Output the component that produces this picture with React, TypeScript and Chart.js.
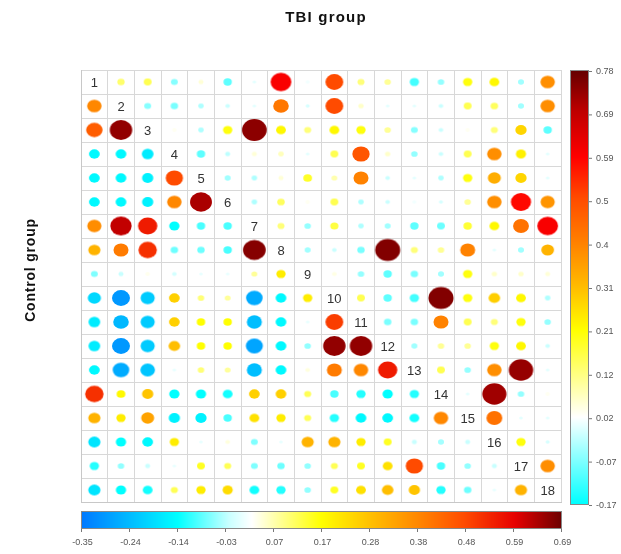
import React, { useEffect, useRef } from 'react';
import { Chart, registerables } from 'chart.js';

Chart.register(...registerables);

// Variable labels shown on the diagonal
const variables = ['1', '2', '3', '4', '5', '6', '7', '8', '9', '10', '11', '12', '13', '14', '15', '16', '17', '18'];

// Correlation matrix: upper triangle = TBI group, lower triangle = Control group, diagonal = null
const matrix: (number | null)[][] = [
  [null, 0.13, 0.15, -0.07, 0.05, -0.1, 0, 0.6, 0.01, 0.5, 0.12, 0.1, -0.12, -0.06, 0.2, 0.22, -0.05, 0.38],
  [0.38, null, -0.07, -0.08, -0.04, -0.02, 0, 0.42, -0.01, 0.5, 0.06, 0, 0, -0.02, 0.15, 0.14, -0.05, 0.38],
  [0.45, 0.66, null, 0.03, -0.04, 0.2, 0.74, 0.22, 0.12, 0.22, 0.2, 0.1, -0.07, -0.02, 0.03, 0.12, 0.27, -0.1],
  [-0.15, -0.15, -0.17, null, -0.1, -0.03, 0.05, 0.07, 0, 0.15, 0.48, 0.06, -0.06, -0.02, 0.15, 0.38, 0.23, 0],
  [-0.15, -0.15, -0.16, 0.48, null, -0.05, -0.04, 0.05, 0.18, 0.08, 0.4, -0.02, 0, -0.04, 0.2, 0.33, 0.27, 0],
  [-0.15, -0.15, -0.16, 0.38, 0.64, null, -0.04, 0.14, 0.03, 0.15, -0.04, -0.02, 0.01, -0.01, 0.1, 0.38, 0.58, 0.37],
  [0.37, 0.62, 0.55, -0.14, -0.1, -0.1, null, 0.12, -0.06, 0.16, -0.04, -0.05, -0.1, -0.09, 0.17, 0.22, 0.43, 0.6],
  [0.3, 0.4, 0.52, -0.08, -0.08, -0.1, 0.67, null, -0.05, -0.02, -0.08, 0.75, 0.12, 0.1, 0.4, 0, -0.05, 0.32],
  [-0.07, -0.03, 0.03, -0.02, 0, 0, 0.08, 0.2, null, 0.04, -0.06, -0.1, -0.08, -0.05, 0.2, 0.06, 0.06, 0.05],
  [-0.2, -0.3, -0.22, 0.25, 0.1, 0.08, -0.27, -0.15, 0.2, null, 0.15, -0.1, -0.12, 0.75, 0.2, 0.28, 0.22, -0.04],
  [-0.17, -0.25, -0.22, 0.25, 0.17, 0.17, -0.24, -0.15, 0, 0.5, null, -0.08, -0.08, 0.4, 0.15, 0.12, 0.2, -0.06],
  [-0.17, -0.3, -0.22, 0.28, 0.17, 0.17, -0.28, -0.15, -0.06, 0.66, 0.66, null, -0.05, 0.1, 0.1, 0.2, 0.22, -0.02],
  [-0.15, -0.27, -0.23, 0, 0.1, 0.08, -0.24, -0.15, 0.04, 0.4, 0.38, 0.55, null, 0.15, -0.06, 0.38, 0.73, 0],
  [0.52, 0.18, 0.27, -0.14, -0.14, -0.13, 0.25, 0.25, 0.12, -0.1, -0.12, -0.14, -0.12, null, 0, 0.72, -0.06, 0.03],
  [0.3, 0.2, 0.33, -0.16, -0.16, -0.1, 0.22, 0.2, 0.12, -0.12, -0.15, -0.15, -0.13, 0.38, null, 0.43, 0, 0],
  [-0.18, -0.14, -0.15, 0.2, 0, 0.04, -0.07, 0, 0.3, 0.3, 0.2, 0.15, -0.03, -0.05, -0.03, null, 0.2, -0.01],
  [-0.12, -0.06, -0.03, 0, 0.15, 0.12, -0.07, -0.08, -0.06, 0.12, 0.15, 0.22, 0.48, -0.1, -0.06, -0.03, null, 0.38],
  [-0.18, -0.14, -0.13, 0.12, 0.2, 0.23, -0.13, -0.12, -0.06, 0.15, 0.22, 0.28, 0.27, -0.12, -0.08, 0, 0.3, null],
];

// Colour bar tick labels
const tbiTicks = [0.78, 0.69, 0.59, 0.5, 0.4, 0.31, 0.21, 0.12, 0.02, -0.07, -0.17];
const controlTicks = [-0.35, -0.24, -0.14, -0.03, 0.07, 0.17, 0.28, 0.38, 0.48, 0.59, 0.69];

type Stop = [number, number, number, number];
const tbiStops: Stop[] = [
  [-0.17, 0, 255, 255],
  [0.02, 255, 255, 255],
  [0.21, 255, 255, 0],
  [0.31, 255, 185, 0],
  [0.4, 255, 130, 0],
  [0.5, 255, 75, 0],
  [0.59, 255, 0, 0],
  [0.69, 190, 0, 0],
  [0.78, 100, 0, 0],
];
const controlStops: Stop[] = [
  [-0.35, 0, 120, 255],
  [-0.24, 0, 190, 255],
  [-0.14, 0, 255, 255],
  [-0.03, 200, 255, 255],
  [0.02, 255, 255, 255],
  [0.07, 255, 255, 170],
  [0.17, 255, 255, 0],
  [0.28, 255, 190, 0],
  [0.38, 255, 135, 0],
  [0.48, 255, 75, 0],
  [0.59, 230, 0, 0],
  [0.69, 110, 0, 0],
];

function colorAt(stops: Stop[], v: number): string {
  if (v <= stops[0][0]) return `rgb(${stops[0][1]},${stops[0][2]},${stops[0][3]})`;
  for (let i = 1; i < stops.length; i++) {
    if (v <= stops[i][0]) {
      const a = stops[i - 1];
      const b = stops[i];
      const t = (v - a[0]) / (b[0] - a[0]);
      const r = Math.round(a[1] + (b[1] - a[1]) * t);
      const g = Math.round(a[2] + (b[2] - a[2]) * t);
      const bl = Math.round(a[3] + (b[3] - a[3]) * t);
      return `rgb(${r},${g},${bl})`;
    }
  }
  const l = stops[stops.length - 1];
  return `rgb(${l[1]},${l[2]},${l[3]})`;
}

const imgCache = new Map<string, HTMLCanvasElement>();
function ellipseImage(v: number, stops: Stop[], key: string): HTMLCanvasElement {
  const k = key + ':' + v;
  const hit = imgCache.get(k);
  if (hit) return hit;
  const a = Math.abs(v);
  let rx = v >= 0 ? 1.8 + 14.3 * a : 1.8 + 24 * a;
  rx = Math.min(rx, 12.8);
  const ry = rx * 0.88;
  const c = document.createElement('canvas');
  c.width = Math.ceil(rx * 2) + 4;
  c.height = Math.ceil(ry * 2) + 4;
  const g = c.getContext('2d')!;
  g.fillStyle = colorAt(stops, v);
  g.beginPath();
  g.ellipse(c.width / 2, c.height / 2, rx, ry, 0, 0, Math.PI * 2);
  g.fill();
  imgCache.set(k, c);
  return c;
}

const tbiPoints: { x: number; y: number; v: number }[] = [];
const controlPoints: { x: number; y: number; v: number }[] = [];
matrix.forEach((row, i) =>
  row.forEach((v, j) => {
    if (v === null) return;
    const p = { x: j + 1, y: i + 1, v };
    if (j > i) tbiPoints.push(p);
    else controlPoints.push(p);
  })
);

const FONT = '"Liberation Sans", Arial, sans-serif';

const decorPlugin = {
  id: 'decor',
  afterDatasetsDraw(chart: any) {
    const { ctx, scales } = chart;
    const xs = scales.x;
    const ys = scales.y;
    ctx.save();
    // diagonal labels
    ctx.fillStyle = '#333';
    ctx.font = `13px ${FONT}`;
    ctx.textAlign = 'center';
    ctx.textBaseline = 'middle';
    variables.forEach((lab, i) => {
      ctx.fillText(lab, xs.getPixelForValue(i + 1), ys.getPixelForValue(i + 1) + 1);
    });

    // titles
    ctx.fillStyle = '#111';
    ctx.font = `bold 15px ${FONT}`;
    try { (ctx as any).letterSpacing = '1.2px'; } catch (e) {}
    ctx.fillText('TBI group', 326, 18);
    ctx.save();
    ctx.translate(31, 270);
    ctx.rotate(-Math.PI / 2);
    ctx.font = `bold 14px ${FONT}`;
    try { (ctx as any).letterSpacing = '0.8px'; } catch (e) {}
    ctx.fillText('Control group', 0, 0);
    ctx.restore();
    try { (ctx as any).letterSpacing = '0px'; } catch (e) {}

    // right colour bar (TBI)
    const rL = 570, rR = 588, rT = 70, rB = 504;
    const tMin = tbiTicks[tbiTicks.length - 1], tMax = tbiTicks[0];
    for (let y = rT; y < rB; y++) {
      const v = tMax - ((y + 0.5 - rT) / (rB - rT)) * (tMax - tMin);
      ctx.fillStyle = colorAt(tbiStops, v);
      ctx.fillRect(rL, y, rR - rL, 1);
    }
    ctx.strokeStyle = '#888';
    ctx.lineWidth = 1;
    ctx.strokeRect(rL + 0.5, rT + 0.5, rR - rL, rB - rT);
    ctx.font = `9px ${FONT}`;
    ctx.textAlign = 'left';
    ctx.textBaseline = 'middle';
    ctx.fillStyle = '#555';
    tbiTicks.forEach((t, i) => {
      const y = rT + 1.5 + (i / (tbiTicks.length - 1)) * (rB - rT);
      ctx.strokeStyle = '#777';
      ctx.beginPath();
      ctx.moveTo(rR + 1, y);
      ctx.lineTo(rR + 4, y);
      ctx.stroke();
      ctx.fillText(String(t), rR + 8, y);
    });

    // bottom colour bar (Control)
    const bL = 81, bR = 561, bT = 511, bB = 528;
    const cMin = controlTicks[0], cMax = controlTicks[controlTicks.length - 1];
    for (let x = bL; x < bR; x++) {
      const v = cMin + ((x + 0.5 - bL) / (bR - bL)) * (cMax - cMin);
      ctx.fillStyle = colorAt(controlStops, v);
      ctx.fillRect(x, bT, 1, bB - bT);
    }
    ctx.strokeStyle = '#888';
    ctx.strokeRect(bL + 0.5, bT + 0.5, bR - bL, bB - bT);
    ctx.textAlign = 'center';
    ctx.textBaseline = 'middle';
    controlTicks.forEach((t, i) => {
      const x = bL + 0.5 + (i / (controlTicks.length - 1)) * (bR - bL);
      ctx.strokeStyle = '#777';
      ctx.beginPath();
      ctx.moveTo(x, bB + 1);
      ctx.lineTo(x, bB + 4);
      ctx.stroke();
      ctx.fillStyle = '#555';
      ctx.fillText(t.toFixed(2), x + 1, 543);
    });
    ctx.restore();
  },
};

const halfTicks = (scale: any) => {
  const t = [];
  for (let i = 0; i <= variables.length; i++) t.push({ value: i + 0.5 });
  scale.ticks = t;
};

export default function App() {
  const ref = useRef<HTMLCanvasElement>(null);
  useEffect(() => {
    document.body.style.margin = '0';
    const chart = new Chart(ref.current!, {
      type: 'scatter',
      data: {
        datasets: [
          {
            label: 'TBI group',
            data: tbiPoints as any,
            pointStyle: (c: any) => ellipseImage(c.raw.v, tbiStops, 'tbi'),
          } as any,
          {
            label: 'Control group',
            data: controlPoints as any,
            pointStyle: (c: any) => ellipseImage(c.raw.v, controlStops, 'ctl'),
          } as any,
        ],
      },
      options: {
        responsive: false,
        animation: false,
        events: [],
        layout: { padding: { left: 81, right: 60, top: 70, bottom: 52 } },
        plugins: { legend: { display: false }, tooltip: { enabled: false }, title: { display: false } },
        scales: {
          x: {
            type: 'linear',
            min: 0.5,
            max: variables.length + 0.5,
            afterBuildTicks: halfTicks,
            ticks: { display: false },
            grid: { color: '#d8d8d8', lineWidth: 1, drawTicks: false },
            border: { display: true, color: '#c8c8c8' },
          },
          y: {
            type: 'linear',
            reverse: true,
            min: 0.5,
            max: variables.length + 0.5,
            afterBuildTicks: halfTicks,
            ticks: { display: false },
            grid: { color: '#d8d8d8', lineWidth: 1, drawTicks: false },
            border: { display: true, color: '#c8c8c8' },
          },
        },
      },
      plugins: [decorPlugin],
    });
    return () => chart.destroy();
  }, []);
  return (
    <div style={{ position: 'fixed', left: 0, top: 0, width: 621, height: 554, background: '#fff' }}>
      <canvas ref={ref} width={621} height={554} />
    </div>
  );
}
